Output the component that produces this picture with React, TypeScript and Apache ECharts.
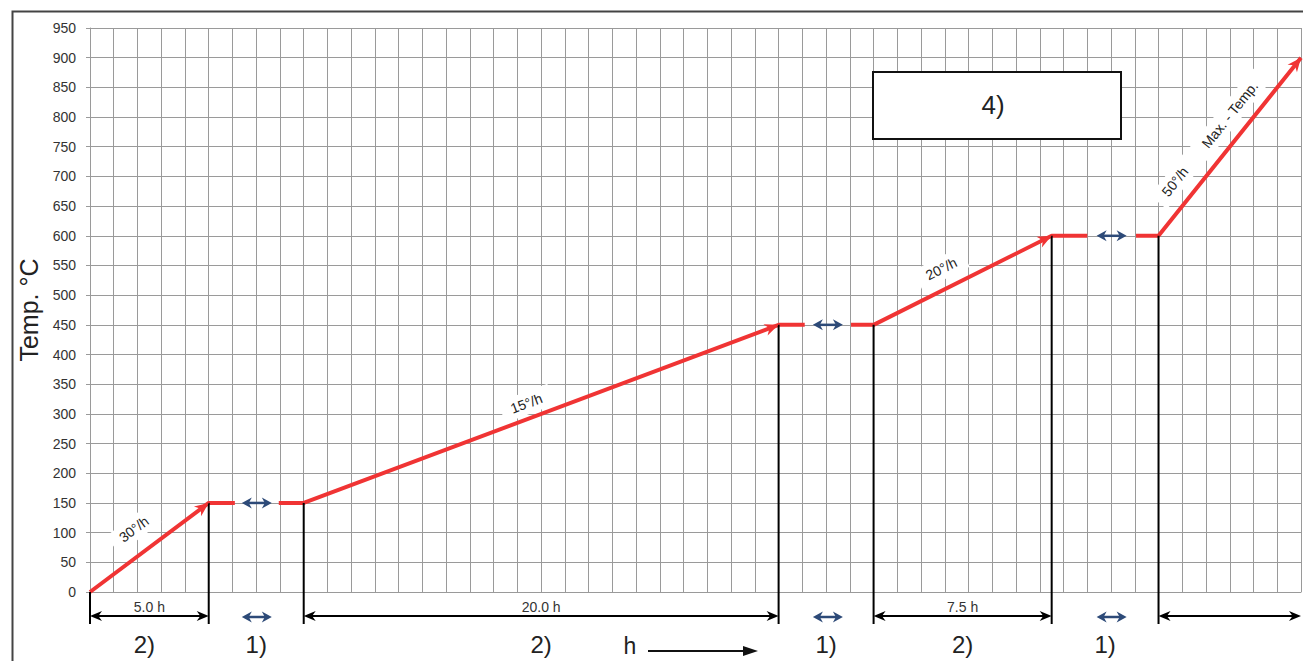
import React, { useEffect, useRef } from 'react';
import * as echarts from 'echarts';

// ---- data ----
const hourMin = 0;
const hourMax = 51;
const tempMin = 0;
const tempMax = 950;
const tempStep = 50;
const rampHours = [[0, 5], [9, 29], [33, 40.5], [45, 51]];
const rampTemps = [[0, 150], [150, 450], [450, 600], [600, 900]];
const rampRates = ['30°/h', '15°/h', '20°/h', '50°/h'];
const rampDurations = ['5.0 h', '20.0 h', '7.5 h', ''];
const holdHours = [[5, 9], [29, 33], [40.5, 45]];
const holdTemps = [150, 450, 600];
const holdLineBreaks = [[6.1, 7.95], [30.1, 32.05], [42, 44.05]];
const phaseMarks = ['2)', '1)', '2)', '1)', '2)', '1)'];
const maxTempLabel = 'Max. - Temp.';
const boxLabel = '4)';
const yAxisTitle = 'Temp. °C';
const xAxisHint = 'h';

// ---- style ----
const FONT = 'Liberation Sans, Arial, Helvetica, sans-serif';
const RED = '#f03434';
const BLUE = '#2d4a78';
const GRID = '#9a9a9a';
const rateLabelPlace = [[0.49, 24], [0.48, 15], [0.43, 20], [0.23, 21]];
const maxTempPlace = [0.61, 20];

function buildPieces() {
  const pieces: number[][][] = [];
  let cur: number[][] = [[rampHours[0][0], rampTemps[0][0]]];
  rampHours.forEach((rh, i) => {
    cur.push([rh[1], rampTemps[i][1]]);
    if (i < holdHours.length) {
      cur.push([holdLineBreaks[i][0], holdTemps[i]]);
      pieces.push(cur);
      cur = [[holdLineBreaks[i][1], holdTemps[i]], [holdHours[i][1], holdTemps[i]]];
    } else {
      pieces.push(cur);
    }
  });
  return pieces;
}

function head(tip: number[], ux: number, uy: number, len: number, hw: number, fill: string) {
  const bx = tip[0] - ux * len;
  const by = tip[1] - uy * len;
  const nx = -uy;
  const ny = ux;
  const notchX = tip[0] - ux * len * 0.7;
  const notchY = tip[1] - uy * len * 0.7;
  return {
    type: 'polygon',
    shape: { points: [tip, [bx + nx * hw, by + ny * hw], [notchX, notchY], [bx - nx * hw, by - ny * hw]] },
    style: { fill },
  };
}

function doubleArrow(xa: number, xb: number, y: number, color: string, width: number, len: number, hw: number) {
  return [
    { type: 'line', shape: { x1: xa + len * 0.5, y1: y, x2: xb - len * 0.5, y2: y }, style: { stroke: color, lineWidth: width } },
    head([xa, y], -1, 0, len, hw, color),
    head([xb, y], 1, 0, len, hw, color),
  ];
}

function renderAnnotations(_params: any, api: any) {
  const children: any[] = [];
  const y0 = api.coord([0, 0])[1];
  const hx = (h: number) => api.coord([h, 0])[0];

  // black verticals at phase boundaries
  const verts: number[][] = [];
  rampHours.forEach((rh, i) => {
    verts.push([rh[0], rampTemps[i][0]]);
    if (i < holdHours.length) verts.push([rh[1], rampTemps[i][1]]);
  });
  verts.forEach((v) => {
    const p = api.coord(v);
    children.push({ type: 'line', shape: { x1: p[0], y1: p[1], x2: p[0], y2: y0 + 32 }, style: { stroke: '#000', lineWidth: 2 } });
  });

  // ramp arrowheads + rate labels + duration dimensions
  rampHours.forEach((rh, i) => {
    const a = api.coord([rh[0], rampTemps[i][0]]);
    const b = api.coord([rh[1], rampTemps[i][1]]);
    const dx = b[0] - a[0];
    const dy = b[1] - a[1];
    const L = Math.hypot(dx, dy);
    const ux = dx / L;
    const uy = dy / L;
    children.push(head(b, ux, uy, 14, 6, RED));
    const ang = Math.atan2(-dy, dx);
    const nx = uy;
    const ny = -ux;
    const place = (f: number, d: number, text: string) => {
      children.push({
        type: 'text',
        x: a[0] + dx * f + nx * d,
        y: a[1] + dy * f + ny * d,
        rotation: ang,
        style: {
          text,
          fill: '#222',
          font: '14px ' + FONT,
          align: 'center',
          verticalAlign: 'middle',
          backgroundColor: '#fff',
          padding: [4, 10],
        },
        z2: 5,
      });
    };
    place(rateLabelPlace[i][0], rateLabelPlace[i][1], rampRates[i]);
    if (i === rampHours.length - 1) place(maxTempPlace[0], maxTempPlace[1], maxTempLabel);

    const xa = hx(rh[0]);
    const xb = hx(rh[1]);
    children.push(...doubleArrow(xa, xb, y0 + 24, '#000', 2, 12, 5));
    if (rampDurations[i]) {
      children.push({
        type: 'text', x: (xa + xb) / 2, y: y0 + 15,
        style: { text: rampDurations[i], fill: '#333', font: '14px ' + FONT, align: 'center', verticalAlign: 'middle' },
      });
    }
  });

  // hold blue arrows (in plot and under axis)
  holdHours.forEach((hh, i) => {
    const mid = (holdLineBreaks[i][0] + holdLineBreaks[i][1]) / 2;
    const xm = hx(mid);
    const yh = api.coord([mid, holdTemps[i]])[1];
    children.push(...doubleArrow(xm - 15, xm + 15, yh, BLUE, 2.5, 10, 5.5));
    children.push(...doubleArrow(xm - 15, xm + 15, y0 + 25, BLUE, 2.5, 10, 5.5));
  });

  // phase marks
  const centers: number[] = [];
  rampHours.forEach((rh, i) => {
    if (i < holdHours.length) {
      centers.push((rh[0] + rh[1]) / 2);
      centers.push((holdHours[i][0] + holdHours[i][1]) / 2);
    }
  });
  phaseMarks.forEach((m, i) => {
    children.push({
      type: 'text', x: hx(centers[i]) - (i === 0 ? 5 : 0), y: y0 + 52,
      style: { text: m, fill: '#222', font: '24px ' + FONT, align: 'center', verticalAlign: 'middle' },
    });
  });

  return { type: 'group', children };
}

export default function App() {
  const ref = useRef<HTMLDivElement>(null);
  useEffect(() => {
    if (!ref.current) return;
    const chart = echarts.init(ref.current, null, { renderer: 'svg' });
    const pieces = buildPieces();
    const lineSeries = pieces.map((p) => ({
      type: 'line',
      data: p,
      symbol: 'none',
      clip: false,
      lineStyle: { color: RED, width: 4 },
      z: 3,
      silent: true,
    }));
    chart.setOption({
      animation: false,
      backgroundColor: '#fff',
      textStyle: { fontFamily: FONT },
      grid: { left: 90, top: 28, right: 2, bottom: 69, containLabel: false },
      xAxis: {
        type: 'value', min: hourMin, max: hourMax, interval: 1,
        axisLabel: { show: false }, axisTick: { show: false },
        axisLine: { show: true, lineStyle: { color: GRID, width: 1 } },
        splitLine: { show: true, lineStyle: { color: GRID, width: 1 } },
      },
      yAxis: {
        type: 'value', min: tempMin, max: tempMax, interval: tempStep,
        name: yAxisTitle, nameLocation: 'middle', nameGap: 47, nameRotate: 90,
        nameTextStyle: { fontSize: 25, color: '#222', fontFamily: FONT },
        axisLabel: { fontSize: 14, color: '#333', margin: 14, fontFamily: FONT },
        axisTick: { show: true, length: 4, lineStyle: { color: GRID } },
        axisLine: { show: true, lineStyle: { color: GRID, width: 1 } },
        splitLine: { show: true, lineStyle: { color: GRID, width: 1 } },
      },
      series: [
        ...lineSeries,
        { type: 'custom', data: [[0, 0]], renderItem: renderAnnotations, clip: false, z: 4, silent: true },
      ],
      graphic: [
        { type: 'rect', left: 10, top: 9, shape: { width: 1400, height: 700 }, style: { fill: 'none', stroke: '#444', lineWidth: 2 }, z: 100, silent: true },
        { type: 'rect', x: 873, y: 72, shape: { width: 248, height: 67 }, style: { fill: '#fff', stroke: '#111', lineWidth: 2 }, z: 100 },
        { type: 'text', x: 993, y: 105, style: { text: boxLabel, fill: '#222', font: '26px ' + FONT, align: 'center', verticalAlign: 'middle' }, z: 101 },
        { type: 'text', x: 630, y: 646, style: { text: xAxisHint, fill: '#222', font: '23px ' + FONT, align: 'center', verticalAlign: 'middle' }, z: 101 },
        { type: 'line', shape: { x1: 648, y1: 651, x2: 745, y2: 651 }, style: { stroke: '#111', lineWidth: 2 }, z: 101 },
        { type: 'polygon', shape: { points: [[758, 651], [743, 646], [743, 656]] }, style: { fill: '#111' }, z: 101 },
      ],
    });
    return () => chart.dispose();
  }, []);
  return <div ref={ref} style={{ position: 'fixed', left: 0, top: 0, width: 1303, height: 661 }} />;
}
